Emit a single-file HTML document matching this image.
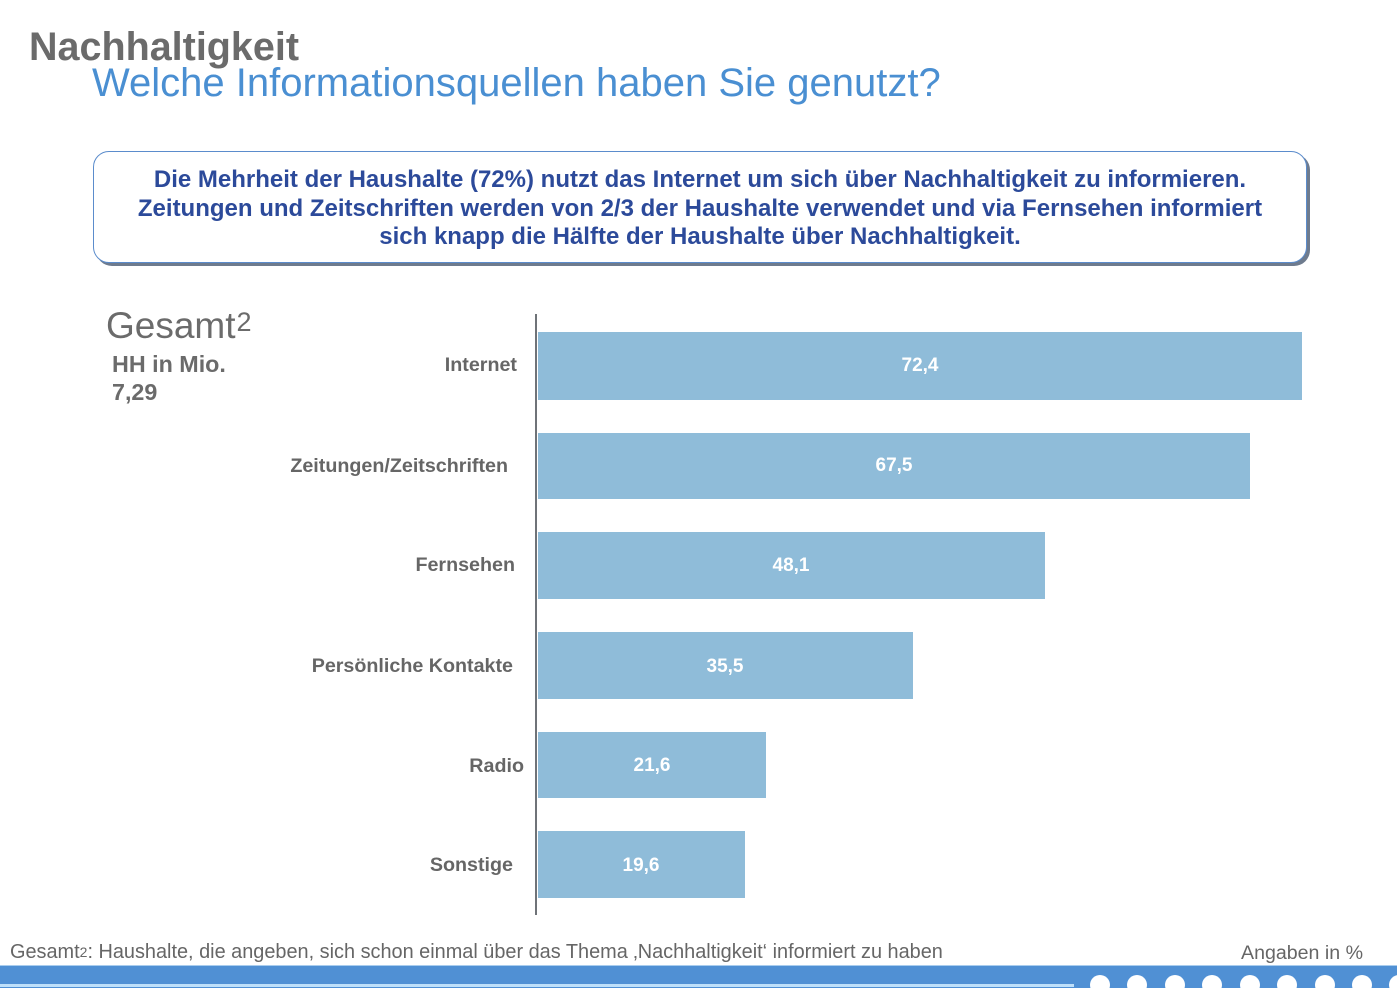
<!DOCTYPE html>
<html>
<head>
<meta charset="utf-8">
<style>
html,body{margin:0;padding:0;}
body{width:1397px;height:987px;position:relative;overflow:hidden;background:#fff;font-family:"Liberation Sans",Arial,sans-serif;}
.abs{position:absolute;white-space:nowrap;}
#t1{left:29px;top:24px;font-size:39.5px;font-weight:bold;color:#6b6b6b;line-height:46px;}
#t2{left:92px;top:60px;font-size:40px;color:#4a8fd2;line-height:46px;}
#box{position:absolute;left:93px;top:151px;width:1212px;height:110px;border:1.5px solid #5b8ccc;border-radius:16px;box-shadow:3px 3px 0 #6e7b8e;background:#fff;}
#boxtext{position:absolute;left:0px;top:166px;width:1400px;text-align:center;font-size:24px;font-weight:bold;color:#2c4a9a;line-height:28.5px;}
.lbl{position:absolute;font-size:19.7px;font-weight:bold;color:#666;white-space:nowrap;text-align:right;}
.bar{position:absolute;left:538px;background:#8fbcd9;}
.val{position:absolute;font-size:19px;font-weight:bold;color:#fff;white-space:nowrap;transform:translateX(-50%);}
#axis{position:absolute;left:535px;top:314px;width:2px;height:601px;background:#6f7378;}
#band{position:absolute;left:0;top:965px;width:1397px;height:22px;background:#5090d4;border-top:1px solid #a9cdee;}
#bline{position:absolute;left:0;top:984px;width:1074px;height:3px;background:#bfe0fa;}
.dot{position:absolute;top:975px;width:20px;height:20px;border-radius:50%;background:#fff;}
</style>
</head>
<body>
<div id="t1" class="abs">Nachhaltigkeit</div>
<div id="t2" class="abs">Welche Informationsquellen haben Sie genutzt?</div>

<div id="box"></div>
<div id="boxtext">Die Mehrheit der Haushalte (72%) nutzt das Internet um sich über Nachhaltigkeit zu informieren.<br>Zeitungen und Zeitschriften werden von 2/3 der Haushalte verwendet und via Fernsehen informiert<br>sich knapp die Hälfte der Haushalte über Nachhaltigkeit.</div>

<div class="abs" style="left:106px;top:304px;font-size:37px;color:#6b6b6b;line-height:44px;">Gesamt<span style="font-size:27px;vertical-align:top;position:relative;top:-4px;margin-left:1px;">2</span></div>
<div class="abs" style="left:112px;top:350px;font-size:23.3px;font-weight:bold;color:#6b6b6b;line-height:28px;">HH in Mio.<br>7,29</div>

<div id="axis"></div>

<div class="bar" style="top:332px;width:764px;height:68px;"></div>
<div class="bar" style="top:433px;width:712px;height:66px;"></div>
<div class="bar" style="top:532px;width:507px;height:67px;"></div>
<div class="bar" style="top:632px;width:375px;height:67px;"></div>
<div class="bar" style="top:732px;width:228px;height:66px;"></div>
<div class="bar" style="top:831px;width:207px;height:67px;"></div>

<div class="lbl" style="right:880px;top:354px;">Internet</div>
<div class="lbl" style="right:889px;top:455px;">Zeitungen/Zeitschriften</div>
<div class="lbl" style="right:882px;top:554px;">Fernsehen</div>
<div class="lbl" style="right:884px;top:655px;">Persönliche Kontakte</div>
<div class="lbl" style="right:873px;top:755px;">Radio</div>
<div class="lbl" style="right:884px;top:854px;">Sonstige</div>

<div class="val" style="left:920px;top:355px;">72,4</div>
<div class="val" style="left:894px;top:455px;">67,5</div>
<div class="val" style="left:791px;top:555px;">48,1</div>
<div class="val" style="left:725px;top:656px;">35,5</div>
<div class="val" style="left:652px;top:755px;">21,6</div>
<div class="val" style="left:641px;top:855px;">19,6</div>

<div class="abs" style="left:10px;top:940px;font-size:19.9px;color:#666;line-height:24px;">Gesamt<span style="font-size:14px;vertical-align:top;">2</span>: Haushalte, die angeben, sich schon einmal über das Thema ‚Nachhaltigkeit‘ informiert zu haben</div>
<div class="abs" style="left:1241px;top:941px;font-size:19.6px;color:#666;line-height:24px;">Angaben in %</div>

<div id="band"></div>
<div id="bline"></div>
<div class="dot" style="left:1090px;"></div>
<div class="dot" style="left:1127px;"></div>
<div class="dot" style="left:1165px;"></div>
<div class="dot" style="left:1202px;"></div>
<div class="dot" style="left:1240px;"></div>
<div class="dot" style="left:1277px;"></div>
<div class="dot" style="left:1315px;"></div>
<div class="dot" style="left:1352px;"></div>
<div class="dot" style="left:1389px;"></div>
</body>
</html>
